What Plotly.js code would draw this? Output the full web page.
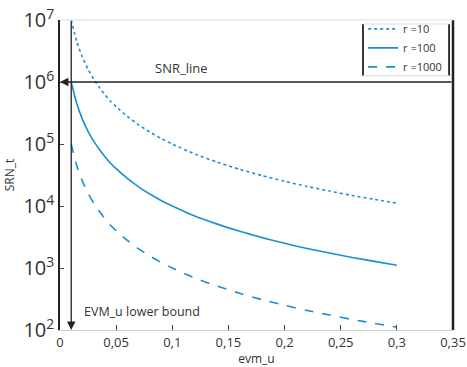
<!DOCTYPE html>
<html>
<head>
<meta charset="utf-8">
<script src="https://cdn.plot.ly/plotly-3.0.1.min.js"></script>
<style>html,body{margin:0;padding:0;background:#fff;}#chart{width:467px;height:367px;}</style>
</head>
<body>
<div id="chart"></div>
<script>
// values
const evm = [0.01, 0.015, 0.02, 0.025, 0.03, 0.035, 0.04, 0.045, 0.05, 0.06, 0.07, 0.08, 0.09, 0.10, 0.12, 0.14, 0.16, 0.18, 0.20, 0.22, 0.24, 0.26, 0.28, 0.30];
const srnR10 = [1.0e7, 4.44e6, 2.5e6, 1.6e6, 1.11e6, 8.2e5, 6.25e5, 4.9e5, 4.0e5, 2.78e5, 2.04e5, 1.56e5, 1.23e5, 1.0e5, 6.9e4, 5.1e4, 3.9e4, 3.09e4, 2.5e4, 2.07e4, 1.74e4, 1.48e4, 1.28e4, 1.11e4];
const srnR100 = [1.0e6, 4.44e5, 2.5e5, 1.6e5, 1.11e5, 8.2e4, 6.25e4, 4.9e4, 4.0e4, 2.78e4, 2.04e4, 1.56e4, 1.23e4, 1.0e4, 6.9e3, 5.1e3, 3.9e3, 3.09e3, 2.5e3, 2.07e3, 1.74e3, 1.48e3, 1.28e3, 1.11e3];
const srnR1000 = [1.0e5, 4.44e4, 2.5e4, 1.6e4, 1.11e4, 8.2e3, 6.25e3, 4.9e3, 4.0e3, 2.78e3, 2.04e3, 1.56e3, 1.23e3, 1.0e3, 6.9e2, 5.1e2, 3.9e2, 3.09e2, 2.5e2, 2.07e2, 1.74e2, 1.48e2, 1.28e2, 1.11e2];
const seriesNames = ['r =10', 'r =100', 'r =1000'];
const snrLine = 1e6;
const evmLowerBound = 0.01;

const blue = '#1a90d3';
const dark = '#222222';
const txt = '#333333';

const traces = [
  {x: evm, y: srnR10, name: seriesNames[0], mode: 'lines', line: {color: blue, width: 1.6, dash: 'dot', shape: 'spline', smoothing: 0.6}},
  {x: evm, y: srnR100, name: seriesNames[1], mode: 'lines', line: {color: blue, width: 1.6, dash: 'solid', shape: 'spline', smoothing: 0.6}},
  {x: evm, y: srnR1000, name: seriesNames[2], mode: 'lines', line: {color: blue, width: 1.6, dash: 'dash', shape: 'spline', smoothing: 0.6}}
];

const layout = {
  width: 467, height: 367,
  margin: {l: 60, r: 14, t: 20, b: 37},
  paper_bgcolor: '#fff', plot_bgcolor: '#fff',
  separators: ', ',
  font: {family: 'Open Sans, sans-serif', color: txt, size: 13},
  showlegend: true,
  legend: {x: 0.985, y: 1.018, xanchor: 'right', yanchor: 'top', bgcolor: 'rgba(0,0,0,0)',
           borderwidth: 0, font: {size: 11, color: txt}, tracegroupgap: 0},
  xaxis: {range: [0, 0.35], dtick: 0.05, tick0: 0, showgrid: false, zeroline: false,
          showline: true, linecolor: '#cccccc', linewidth: 1, mirror: false,
          ticks: 'inside', ticklen: 5, tickcolor: '#444',
          tickfont: {size: 13, color: txt},
          title: {text: 'evm_u', font: {size: 12, color: txt}, standoff: 4}},
  yaxis: {type: 'log', range: [2, 7], dtick: 1, exponentformat: 'power', showgrid: false, zeroline: false,
          showline: true, linecolor: dark, linewidth: 2.5, mirror: false,
          ticks: 'inside', ticklen: 4, tickcolor: '#444',
          tickfont: {size: 16, color: txt},
          title: {text: 'SRN_t', font: {size: 12, color: txt}, standoff: 6}},
  shapes: [
    {type: 'line', xref: 'paper', yref: 'paper', x0: 1, x1: 1, y0: 0, y1: 1, line: {color: dark, width: 2.5}},
    {type: 'line', xref: 'paper', yref: 'paper', x0: 0, x1: 1, y0: 1, y1: 1, line: {color: '#dddddd', width: 1}},
    // legend frame
    {type: 'line', xref: 'paper', yref: 'paper', x0: 0.771, x1: 0.771, y0: 0.82, y1: 0.987, line: {color: dark, width: 1.8}},
    {type: 'line', xref: 'paper', yref: 'paper', x0: 0.99, x1: 0.99, y0: 0.82, y1: 0.987, line: {color: dark, width: 1.8}},
    {type: 'line', xref: 'paper', yref: 'paper', x0: 0.771, x1: 0.99, y0: 0.987, y1: 0.987, line: {color: '#dddddd', width: 1}},
    {type: 'line', xref: 'paper', yref: 'paper', x0: 0.771, x1: 0.99, y0: 0.82, y1: 0.82, line: {color: '#dddddd', width: 1}}
  ],
  annotations: [
    {x: 0, y: Math.log10(snrLine), ax: 0.35, ay: Math.log10(snrLine), xref: 'x', yref: 'y', axref: 'x', ayref: 'y',
     showarrow: true, arrowhead: 2, arrowsize: 1.3, arrowwidth: 1.3, arrowcolor: dark, text: ''},
    {x: evmLowerBound, y: 2, ax: evmLowerBound, ay: 7, xref: 'x', yref: 'y', axref: 'x', ayref: 'y',
     showarrow: true, arrowhead: 2, arrowsize: 1.3, arrowwidth: 1.3, arrowcolor: dark, text: ''},
    {x: 0.108, y: Math.log10(snrLine), xref: 'x', yref: 'y', yshift: 14, showarrow: false,
     text: 'SNR_line', font: {size: 13, color: txt}},
    {x: 0.0195, y: 2.3, xref: 'x', yref: 'y', xanchor: 'left', showarrow: false,
     text: 'EVM_u lower bound', font: {size: 12.5, color: txt}}
  ]
};

Plotly.newPlot('chart', traces, layout, {displayModeBar: false, staticPlot: true});
</script>
</body>
</html>
